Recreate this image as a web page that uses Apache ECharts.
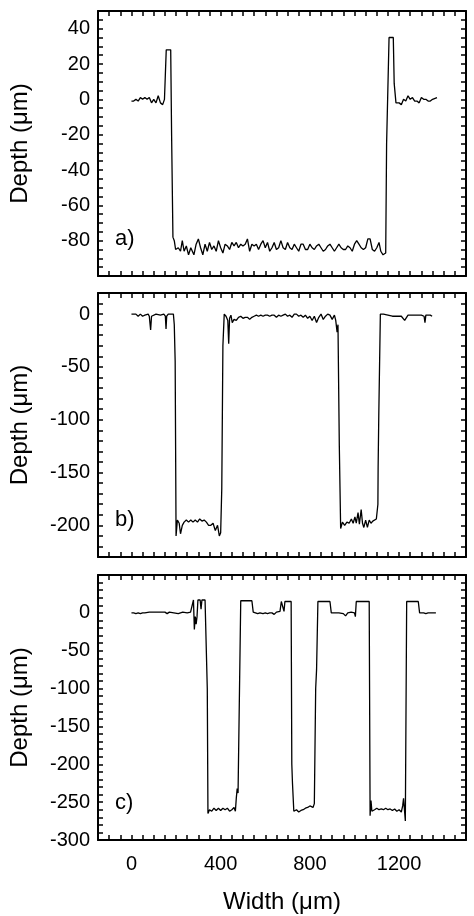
<!DOCTYPE html>
<html><head><meta charset="utf-8">
<script src="https://cdn.jsdelivr.net/npm/echarts@6/dist/echarts.min.js"></script>
<style>html,body{margin:0;padding:0;background:#fff}#main{width:474px;height:916px}</style>
</head><body><div id="main"></div>
<script>
var xTickLabels = [0, 400, 800, 1200];
var profileA = [
  [0,-1],[10,-1],[20,0],[30,-1],[40,1],[50,0],[60,1],[70,0],[80,1],[90,-2],[100,0],[110,-2],[120,2],[130,-2],[140,-3],[148,0],[152,14],[156,28],[176,28],[180,-20],[186,-78],[192,-80],[198,-85],[210,-84],[220,-86],[228,-80],[236,-86],[246,-83],[256,-88],[266,-84],[280,-88],[290,-82],[300,-79],[310,-84],[320,-88],[330,-82],[340,-86],[350,-81],[360,-85],[370,-83],[380,-86],[390,-80],[400,-84],[410,-87],[420,-82],[430,-83],[440,-85],[450,-81],[460,-83],[470,-81],[480,-84],[490,-82],[500,-83],[510,-82],[520,-79],[530,-86],[540,-82],[550,-83],[560,-82],[570,-85],[580,-82],[590,-80],[600,-84],[610,-81],[620,-86],[630,-84],[640,-81],[650,-85],[660,-84],[670,-80],[680,-84],[690,-85],[700,-81],[710,-84],[720,-85],[730,-82],[740,-84],[750,-86],[760,-82],[770,-82],[780,-85],[790,-85],[800,-82],[810,-84],[820,-85],[830,-83],[840,-82],[850,-84],[860,-86],[870,-85],[880,-83],[890,-82],[900,-84],[910,-86],[920,-84],[930,-82],[940,-84],[950,-85],[960,-85],[970,-83],[980,-84],[990,-86],[1000,-82],[1010,-80],[1020,-82],[1030,-84],[1040,-85],[1050,-84],[1060,-79],[1070,-79],[1080,-85],[1090,-86],[1100,-84],[1110,-81],[1118,-86],[1128,-88],[1140,-87],[1144,-25],[1150,-24],[1155,35],[1174,35],[1178,9],[1182,8],[1186,-2],[1200,-2],[1210,-3],[1220,0],[1230,-1],[1240,2],[1250,0],[1260,1],[1270,-1],[1280,-1],[1290,-2],[1300,1],[1310,0],[1320,0],[1330,-1],[1340,-1],[1350,0],[1370,1]
];
var profileB = [
  [0,0],[20,0],[30,-2],[40,0],[50,-2],[60,-1],[75,0],[80,-2],[86,-15],[90,-2],[110,0],[130,-1],[145,0],[152,-2],[155,-14],[158,-2],[165,0],[188,0],[192,-10],[196,-45],[200,-210],[206,-195],[214,-198],[220,-208],[228,-200],[236,-197],[246,-195],[256,-197],[266,-195],[276,-197],[286,-195],[296,-197],[306,-194],[316,-196],[326,-195],[336,-197],[346,-200],[356,-200],[366,-198],[376,-205],[386,-200],[394,-210],[400,-207],[405,-165],[410,-30],[416,0],[424,-2],[432,-6],[436,-28],[440,-4],[446,-1],[452,-8],[460,-5],[470,-6],[480,-3],[490,-2],[500,-4],[510,-3],[520,-3],[530,-5],[540,-3],[550,-2],[560,-1],[570,-2],[580,-1],[590,-2],[600,-1],[610,-1],[620,-2],[630,-1],[640,-1],[650,-3],[660,-1],[670,-2],[680,-1],[690,0],[700,-2],[710,-1],[720,-3],[730,0],[740,0],[750,-2],[760,-1],[770,-3],[780,-1],[790,-4],[800,-2],[810,-6],[820,-2],[830,-8],[840,-3],[850,0],[860,-5],[870,-2],[880,0],[890,-1],[900,-5],[910,-1],[916,-6],[922,-17],[926,-10],[932,-125],[938,-203],[946,-197],[956,-200],[966,-197],[976,-198],[986,-194],[994,-198],[1002,-192],[1008,-198],[1016,-188],[1022,-199],[1030,-185],[1036,-198],[1042,-202],[1050,-195],[1058,-202],[1066,-195],[1074,-198],[1082,-196],[1090,-197],[1098,-194],[1100,-195],[1105,-180],[1106,-145],[1109,-95],[1112,-95],[1116,0],[1130,0],[1150,-1],[1170,-2],[1190,-2],[1210,-2],[1225,-6],[1240,-1],[1260,-1],[1280,-1],[1300,-1],[1312,-2],[1316,-8],[1320,-1],[1340,-1],[1348,-2]
];
var profileC = [
  [0,0],[10,0],[20,-1],[30,0],[40,-1],[50,0],[60,0],[80,1],[100,1],[120,1],[150,1],[160,-1],[170,1],[190,0],[210,-1],[230,1],[250,0],[265,1],[273,1],[278,17],[282,-22],[286,-5],[290,-15],[294,-5],[298,17],[308,17],[312,5],[316,17],[330,17],[336,15],[340,-100],[343,-265],[350,-260],[360,-262],[370,-258],[380,-261],[390,-258],[400,-261],[410,-258],[420,-260],[430,-258],[440,-262],[450,-260],[460,-257],[466,-262],[470,-245],[474,-232],[478,-238],[484,-237],[490,16],[500,16],[540,16],[546,1],[556,0],[566,-1],[576,0],[590,-1],[600,0],[610,-1],[620,0],[630,0],[640,-2],[650,1],[666,2],[672,15],[678,15],[684,2],[688,15],[716,15],[719,-200],[722,-225],[728,-262],[740,-260],[750,-263],[760,-261],[770,-260],[780,-258],[790,-257],[800,-255],[808,-253],[814,-257],[820,-252],[826,-100],[830,-75],[836,15],[890,15],[896,0],[910,0],[930,0],[950,-1],[960,-4],[970,0],[985,1],[1000,0],[1004,-5],[1008,15],[1066,15],[1070,-268],[1074,-248],[1078,-262],[1090,-260],[1100,-258],[1110,-260],[1120,-259],[1130,-260],[1140,-258],[1150,-260],[1160,-259],[1170,-261],[1180,-259],[1190,-262],[1200,-260],[1210,-263],[1216,-255],[1220,-245],[1224,-260],[1228,-275],[1234,15],[1286,15],[1292,0],[1300,-1],[1310,0],[1320,-1],[1330,0],[1345,0],[1365,0]
];
var panelLabels = ['a)', 'b)', 'c)'];

var chartDom = document.getElementById('main');
var myChart = echarts.init(chartDom);
var font = 'Liberation Sans';

var panels = [
  { top: 11, height: 265, min: -100, max: 50, step: 5, major: 20, hideEnds: true, data: profileA },
  { top: 293, height: 264, min: -230, max: 20, step: 10, major: 50, hideEnds: false, data: profileB },
  { top: 575, height: 265, min: -300, max: 50, step: 10, major: 50, hideEnds: false, data: profileC }
];

var grid = [], xAxis = [], yAxis = [], series = [], graphic = [];
panels.forEach(function (p, i) {
  grid.push({ left: 95, right: 8, top: p.top, height: p.height });
  var last = i === panels.length - 1;
  [ 'bottom', 'top' ].forEach(function (pos, k) {
    xAxis.push({
      type: 'value', gridIndex: i, position: pos, min: -150, max: 1500, interval: 50,
      axisLine: { onZero: false, lineStyle: { color: '#000', width: 2 } },
      axisTick: { inside: true, length: 5, lineStyle: { color: '#000', width: 1.5 } },
      splitLine: { show: false },
      axisLabel: {
        show: last && k === 0, color: '#000', fontFamily: font, fontSize: 20, margin: 14,
        formatter: function (v) { return xTickLabels.indexOf(v) >= 0 ? String(v) : ''; }
      },
      name: last && k === 0 ? 'Width (\u03bcm)' : '', nameLocation: 'middle', nameGap: 50,
      nameTextStyle: { color: '#000', fontFamily: font, fontSize: 24 }
    });
  });
  [ 'left', 'right' ].forEach(function (pos, k) {
    yAxis.push({
      type: 'value', gridIndex: i, position: pos, min: p.min, max: p.max, interval: p.step,
      axisLine: { show: true, onZero: false, lineStyle: { color: '#000', width: 2 } },
      axisTick: { show: true, inside: true, length: 5, lineStyle: { color: '#000', width: 1.5 } },
      splitLine: { show: false },
      axisLabel: {
        show: k === 0, color: '#000', fontFamily: font, fontSize: 20, margin: 8,
        formatter: function (v) {
          if (v % p.major !== 0) return '';
          if (v === p.max) return '';
          if (p.hideEnds && v === p.min) return '';
          return String(v);
        }
      },
      name: k === 0 ? 'Depth (\u03bcm)' : '', nameLocation: 'middle', nameGap: 66,
      nameTextStyle: { color: '#000', fontFamily: font, fontSize: 24 }
    });
  });
  series.push({
    type: 'line', xAxisIndex: i * 2, yAxisIndex: i * 2, data: p.data,
    symbol: 'none', lineStyle: { color: '#000', width: 1.3 }, silent: true
  });
  graphic.push({
    type: 'text', left: 115, top: p.top + p.height - 48,
    style: { text: panelLabels[i], fill: '#000', font: '22px ' + font }
  });
});

var option = { animation: false, grid: grid, xAxis: xAxis, yAxis: yAxis, series: series, graphic: graphic };
myChart.setOption(option);
</script>
</body></html>
